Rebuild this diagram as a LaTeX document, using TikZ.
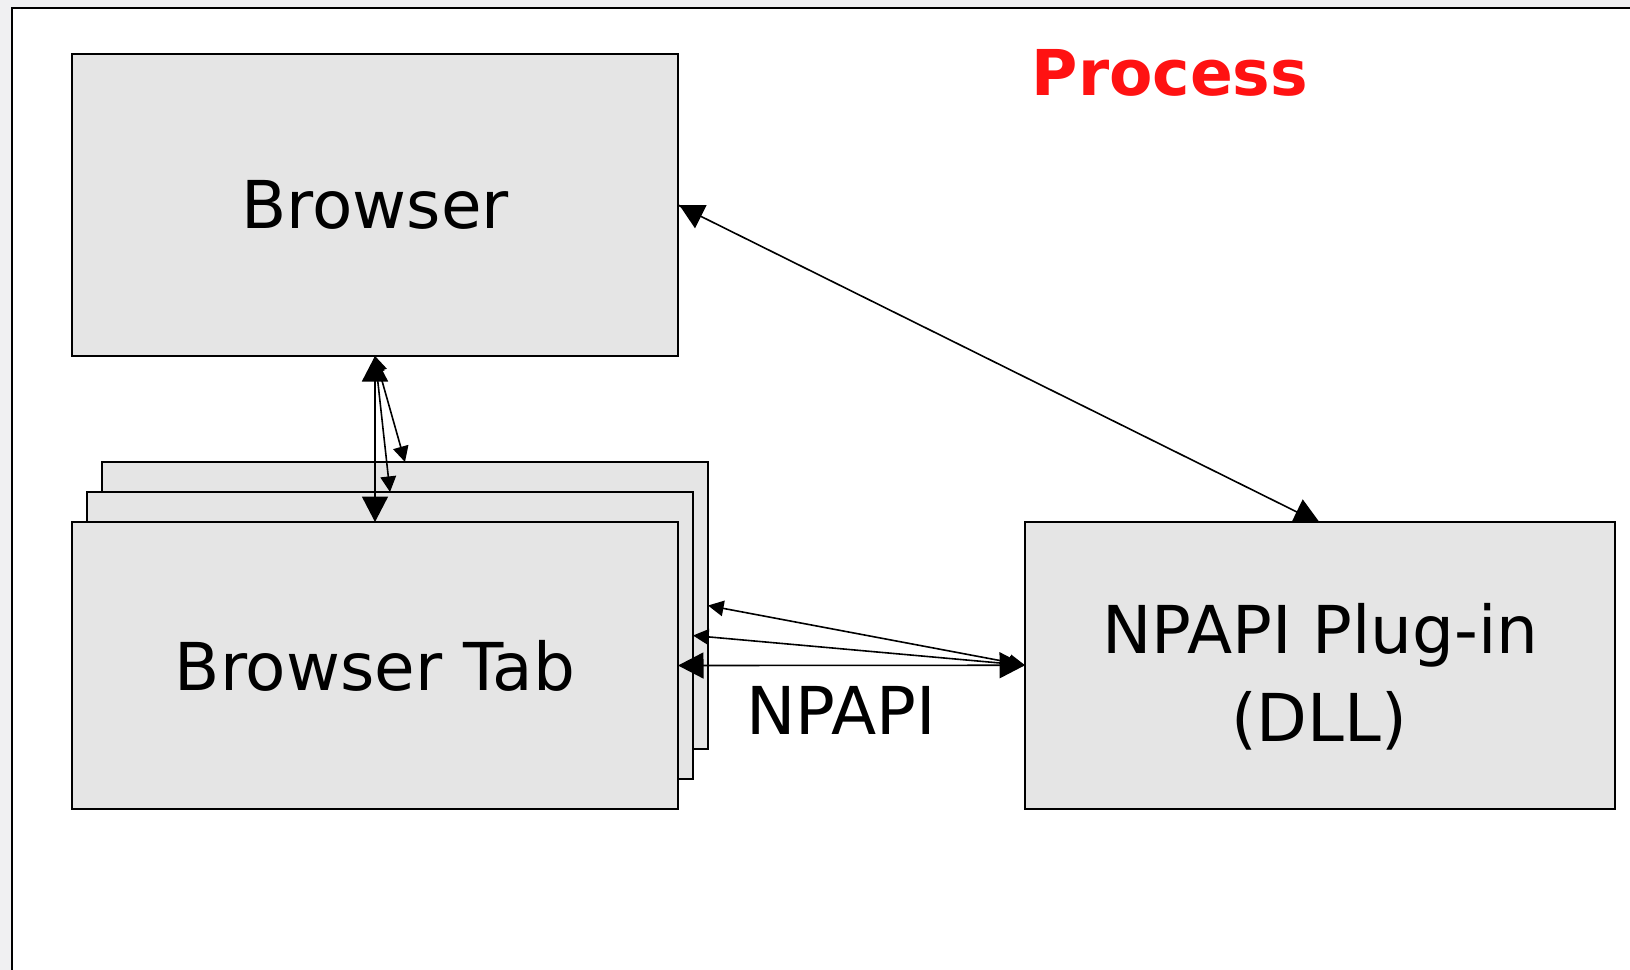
\documentclass[tikz,border=0pt]{standalone}
\usepackage{fontspec}
\setmainfont{DejaVu Sans}
\usetikzlibrary{arrows.meta,calc}
\definecolor{pagegray}{RGB}{240,240,242}
\definecolor{boxfill}{RGB}{229,229,229}
\definecolor{titlered}{RGB}{255,18,18}

\begin{document}
\begin{tikzpicture}[x=0.5pt,y=-0.5pt,
  box/.style={draw=black,fill=boxfill,line width=1pt,rectangle,inner sep=0pt,outer sep=0pt,
    minimum width=303pt,minimum height=143.5pt,font=\fontsize{33}{40}\selectfont},
  boxtext/.style={font=\fontsize{33}{40}\selectfont,anchor=base,inner sep=0pt},
  link/.style={line width=0.8pt,draw=black},
  big/.style={arrows={Triangle[length=12.75pt,width=13pt]-Triangle[length=12.75pt,width=13pt]}},
  small/.style={arrows={Triangle[length=7.8pt,width=7.8pt]-Triangle[length=7.8pt,width=7.8pt]}},
  head/.style={fill=black}
]
\useasboundingbox (0,0) rectangle (1630,970);

% slide background and the process frame
\fill[pagegray] (0,0) rectangle (1630,970);
\draw[line width=1.1pt,fill=white] (12,8) rectangle (1680,1010);

% stacked browser tabs (back to front)
\node[box] (tabback) at (405,605.5) {};
\node[box] (tabmid) at (390,635.5) {};
\node[box] (tabfront) at (375,665.5) {Browser Tab};

% browser main window
\node[box,minimum height=151pt] (browser) at (375,205) {Browser};

% plug-in module
\node[box,minimum width=295pt,minimum height=143.25pt] (plugin) at (1320,665.25) {};
\node[boxtext] (plugintop) at (1320.5,653.3) {NPAPI Plug-in};
\node[boxtext] (pluginbot) at (1319,741.7) {(DLL)};

% labels
\node[font=\bfseries\fontsize{31.6}{38}\selectfont,text=titlered,anchor=base,inner sep=0pt] (title) at (1170,95) {Process};
\node[boxtext] (apilabel) at (841,734) {NPAPI};

% browser <-> tabs
\draw[link,big] (browser.south) -- (tabfront.north);
\draw[link,small] (browser.south) -- (tabmid.north);
\draw[link,small] (browser.south) -- (tabback.north);

% tabs <-> plug-in
\draw[link,big] (tabfront.east) -- (plugin.west);
\draw[link,small] (plugin.west) -- (tabmid.east);
\draw[link,small] (plugin.west) -- (tabback.east);

% browser <-> plug-in
\draw[link] (browser.east) -- ([xshift=-7.5pt,yshift=3pt]plugin.north);
\fill[head] ($(browser.east)+(1.3,0)$) -- ($(browser.east)+(28.7,0)$) -- ($(browser.east)+(17,23.3)$) -- cycle;
\fill[head] ($(plugin.north)+(-17.3,-22.7)$) -- ($(plugin.north)+(-28.3,0)$) -- ($(plugin.north)+(-0.7,0)$) -- cycle;
\end{tikzpicture}
\end{document}
